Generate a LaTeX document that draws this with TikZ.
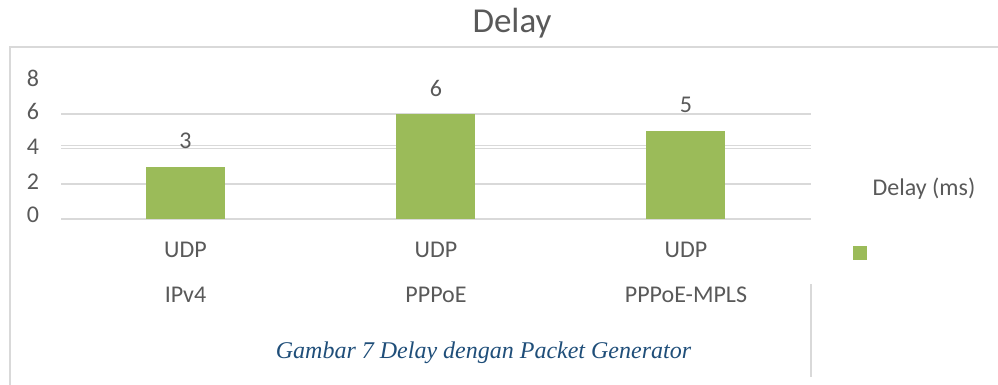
\documentclass[tikz,border=0pt]{standalone}
\usepackage{fontspec}
\setmainfont{Carlito}
\newfontfamily\capfont{Liberation Serif}
\definecolor{bargreen}{HTML}{9BBB59}
\definecolor{txtgray}{HTML}{595959}
\definecolor{gridgray}{HTML}{D9D9D9}
\definecolor{framegray}{HTML}{D9D9D9}
\definecolor{capblue}{HTML}{1F4E79}
\begin{document}
\begin{tikzpicture}[x=1pt,y=-1pt,
  lbl/.style={anchor=base,inner sep=0pt,text=txtgray,font=\fontsize{24}{28}\selectfont},
  gridln/.style={draw=gridgray,line width=1.3pt},
  framel/.style={draw=framegray,line width=1.6pt},
  bar/.style={fill=bargreen,draw=none}]
\useasboundingbox (0,0) rectangle (998,385);
% frame
\coordinate (ftl) at (10,47);
\coordinate (ftr) at (998,47);
\coordinate (fbl) at (10,385);
\draw[framel] (fbl) -- (ftl) -- (ftr);
\coordinate (vt) at (811,284);
\coordinate (vb) at (811,377);
\draw[framel] (vt) -- (vb);
% title
\node[lbl,font=\fontsize{35}{40}\selectfont] (title) at (512,33) {Delay};
% gridlines
\foreach \n/\y in {g0/219,g2/184,g6/114}{
  \coordinate (\n a) at (61,\y); \coordinate (\n b) at (811,\y);
  \draw[gridln] (\n a) -- (\n b);
}
\coordinate (g4a) at (61,145.5); \coordinate (g4b) at (811,145.5);
\draw[gridln] (g4a) -- (g4b);
\coordinate (g4c) at (61,148.5); \coordinate (g4d) at (811,148.5);
\draw[gridln] (g4c) -- (g4d);
% tick labels
\node[lbl] (t8) at (33,87) {8};
\node[lbl] (t6) at (33,120) {6};
\node[lbl] (t4) at (33,154) {4};
\node[lbl] (t2) at (33,189) {2};
\node[lbl] (t0) at (33,222) {0};
% bars
\path[bar] (146,166.5) rectangle (225,219);
\path[bar] (396,114) rectangle (475,219);
\path[bar] (646,131) rectangle (725,219);
% value labels
\node[lbl] (v1) at (185.5,148) {3};
\node[lbl] (v2) at (436,97) {6};
\node[lbl] (v3) at (686,112.5) {5};
% category labels
\node[lbl] (c1a) at (185.5,257.5) {UDP};
\node[lbl] (c2a) at (436,257.5) {UDP};
\node[lbl] (c3a) at (686,257.5) {UDP};
\node[lbl] (c1b) at (185.5,302) {IPv4};
\node[lbl] (c2b) at (436,302) {PPPoE};
\node[lbl] (c3b) at (686,302) {PPPoE-MPLS};
% legend
\node[lbl] (leg) at (924,195) {Delay (ms)};
\path[bar] (853,246) rectangle (867,260);
% caption
\node[anchor=base,inner sep=0pt,text=capblue,font=\capfont\itshape\fontsize{24}{28}\selectfont] (cap) at (483.5,358) {Gambar 7 Delay dengan Packet Generator};
\end{tikzpicture}
\end{document}
